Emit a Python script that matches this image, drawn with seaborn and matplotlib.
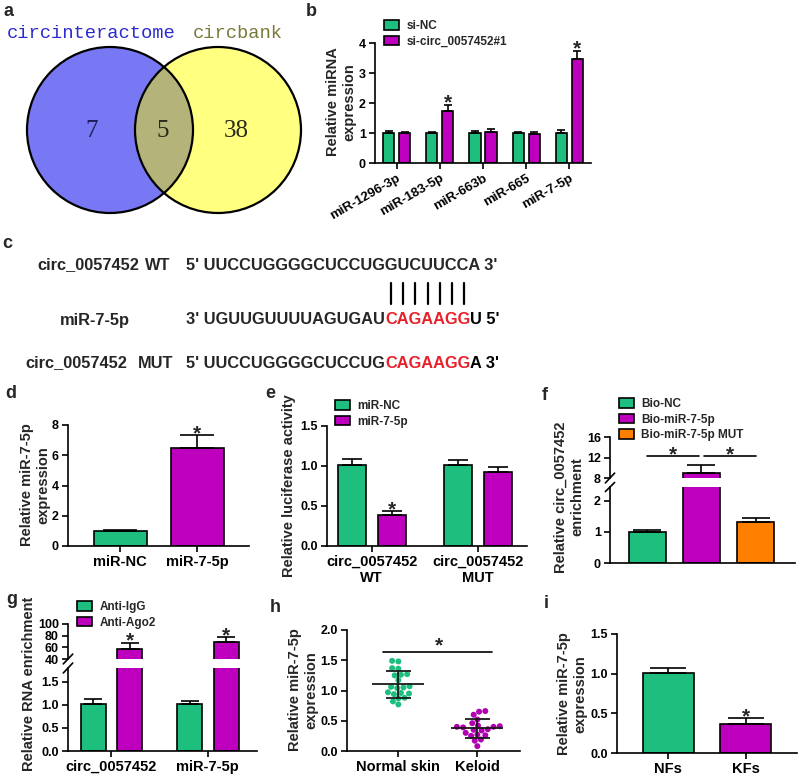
import numpy as np
import pandas as pd
import seaborn as sns
import matplotlib
matplotlib.use('Agg')
from matplotlib import pyplot as plt
from matplotlib.patches import Circle

# ---------------- data ----------------
venn_sets = ['circinteractome', 'circbank']
venn_counts = [7, 5, 38]

b_mirnas = ['miR-1296-3p', 'miR-183-5p', 'miR-663b', 'miR-665', 'miR-7-5p']
b_groups = ['si-NC', 'si-circ_0057452#1']
b_nc = [1.0, 1.0, 1.0, 1.0, 1.0]
b_nc_err = [0.08, 0.05, 0.07, 0.03, 0.10]
b_si = [1.0, 1.75, 1.05, 0.97, 3.47]
b_si_err = [0.05, 0.20, 0.09, 0.07, 0.28]

seq_wt = "5' UUCCUGGGGCUCCUGGUCUUCCA 3'"
seq_mir = ["3' UGUUGUUUUAGUGAU", "CAGAAGG", "U 5'"]
seq_mut = ["5' UUCCUGGGGCUCCUG", "CAGAAGG", "A 3'"]

d_groups = ['miR-NC', 'miR-7-5p']
d_vals = [1.0, 6.45]
d_err = [0.06, 0.90]

e_targets = ['circ_0057452\nWT', 'circ_0057452\nMUT']
e_groups = ['miR-NC', 'miR-7-5p']
e_nc = [1.01, 1.01]
e_nc_err = [0.08, 0.07]
e_mir = [0.39, 0.93]
e_mir_err = [0.05, 0.06]

f_groups = ['Bio-NC', 'Bio-miR-7-5p', 'Bio-miR-7-5p MUT']
f_vals = [1.0, 9.0, 1.32]
f_err = [0.06, 1.6, 0.13]

g_targets = ['circ_0057452', 'miR-7-5p']
g_groups = ['Anti-IgG', 'Anti-Ago2']
g_igg = [1.02, 1.01]
g_igg_err = [0.11, 0.08]
g_ago = [58.0, 70.0]
g_ago_err = [10.0, 7.0]

h_groups = ['Normal skin', 'Keloid']
h_normal = [1.49, 1.48, 1.37, 1.36, 1.27, 1.26, 1.25, 1.17, 1.07, 1.06,
            1.05, 1.04, 0.97, 0.96, 0.95, 0.94, 0.88, 0.87, 0.82, 0.77]
h_keloid = [0.66, 0.65, 0.60, 0.52, 0.46, 0.42, 0.41, 0.40, 0.40, 0.39,
            0.36, 0.35, 0.34, 0.30, 0.27, 0.26, 0.25, 0.19, 0.17, 0.08]

i_groups = ['NFs', 'KFs']
i_vals = [1.01, 0.37]
i_err = [0.06, 0.07]

GREEN = '#1DBE7E'
MAGENTA = '#BE00BE'
ORANGE = '#FF8000'
RED = '#E8202A'

# ---------------- style ----------------
W, H = 800, 775
sns.set_theme(style='ticks')
plt.rcParams['font.family'] = ['Liberation Sans', 'DejaVu Sans']
plt.rcParams.update({
    'font.weight': 'bold',
    'axes.labelweight': 'bold',
    'axes.linewidth': 1.2,
    'axes.edgecolor': 'black',
    'xtick.color': 'black',
    'ytick.color': 'black',
    'xtick.labelsize': 10.5,
    'ytick.labelsize': 9,
    'xtick.major.size': 4,
    'ytick.major.size': 4,
    'xtick.major.width': 1.2,
    'ytick.major.width': 1.2,
    'xtick.major.pad': 2.5,
    'ytick.major.pad': 2.5,
    'axes.labelsize': 10.5,
    'legend.fontsize': 8.5,
})

fig = plt.figure(figsize=(8, 7.75), dpi=100)
fig.patch.set_facecolor('white')

# invisible full-figure axes in pixel units for free text
ax_txt = fig.add_axes([0, 0, 1, 1])
ax_txt.set_xlim(0, W)
ax_txt.set_ylim(H, 0)
ax_txt.set_axis_off()


def add_ax(l, t, r, b):
    return fig.add_axes([l / W, 1 - b / H, (r - l) / W, (b - t) / H])


def ylab(ax, text, x_right, y_mid):
    ax.set_ylabel(text)
    ax.yaxis.set_label_coords(x_right / W, 1 - y_mid / H, transform=fig.transFigure)


def add_err(ax, bars, errs, cap):
    for bar, e in zip(bars, errs):
        x = bar.get_x() + bar.get_width() / 2
        ax.errorbar(x, bar.get_height(), yerr=[[0], [e]], fmt='none', ecolor='black',
                    elinewidth=1.2, capsize=cap, capthick=1.2, zorder=3)


def star(ax, x, y, dy=-3):
    ax.annotate('*', xy=(x, y), xytext=(0, dy), textcoords='offset points',
                ha='center', va='baseline', fontsize=15, fontweight='bold')


def legend_at(ax, x, y):
    sns.move_legend(ax, 'upper left', bbox_to_anchor=(x / W, 1 - y / H),
                    bbox_transform=fig.transFigure, frameon=False, title=None,
                    fontsize=8.5, handlelength=1.3, handleheight=0.9,
                    handletextpad=0.6, labelspacing=0.3, borderaxespad=0, borderpad=0)


def base(ax):
    sns.despine(ax=ax)
    ax.set_xlabel('')
    ax.set_ylabel('')


def flat(ax):
    return [p for c in ax.containers for p in c]


# ---------------- a: venn ----------------
ax_a = add_ax(0, 0, 310, 215)
ax_a.set_xlim(0, 310)
ax_a.set_ylim(215, 0)
ax_a.set_axis_off()
c_left = Circle((110, 130), 83, fc='#7878F5', ec='none')
c_right = Circle((218, 130), 83, fc='#FFFF80', ec='none')
ax_a.add_patch(c_left)
ax_a.add_patch(c_right)
c_mid = Circle((218, 130), 83, fc='#B4B47A', ec='none')
ax_a.add_patch(c_mid)
c_mid.set_clip_path(c_left)
for cx in (110, 218):
    ax_a.add_patch(Circle((cx, 130), 83, fc='none', ec='black', lw=1.6))
ax_a.text(7, 34, venn_sets[0], family='Liberation Mono', fontsize=13.5, fontweight='normal',
          color='#2B2BCF', va='center', ha='left')
ax_a.text(193, 34, venn_sets[1], family='Liberation Mono', fontsize=13.5, fontweight='normal',
          color='#7A7A38', va='center', ha='left')
for xx, n, col in zip((92, 163, 236), venn_counts, ('#1C1C55', '#2A2A1A', '#2A2A1A')):
    ax_a.text(xx, 131, str(n), family='Liberation Serif', fontsize=18, fontweight='normal',
              color=col, ha='center', va='center')

# ---------------- b ----------------
ax_b = add_ax(375, 43, 591, 163)
b_df = pd.DataFrame({'miRNA': b_mirnas * 2,
                     'group': [b_groups[0]] * len(b_mirnas) + [b_groups[1]] * len(b_mirnas),
                     'value': b_nc + b_si})
sns.barplot(data=b_df, x='miRNA', y='value', hue='group', palette=[GREEN, MAGENTA],
            saturation=1, width=0.74, gap=0.31, edgecolor='black', linewidth=1.2,
            errorbar=None, ax=ax_b)
add_err(ax_b, ax_b.containers[0], b_nc_err, 3)
add_err(ax_b, ax_b.containers[1], b_si_err, 3)
for k in (1, 4):
    bar = ax_b.containers[1][k]
    star(ax_b, bar.get_x() + bar.get_width() / 2, b_si[k] + b_si_err[k])
base(ax_b)
ax_b.set_ylim(0, 4)
ax_b.set_xlim(-0.5, 4.5)
ax_b.set_yticks([0, 1, 2, 3, 4])
plt.setp(ax_b.get_xticklabels(), rotation=30, ha='right', rotation_mode='anchor', fontsize=9.5)
ylab(ax_b, 'Relative miRNA\nexpression', 356, 102)
legend_at(ax_b, 384, 20)

# ---------------- c: sequences ----------------
ax_txt.text(7, 243, 'c', fontsize=13, fontweight='bold', ha='center', va='center')
SEQ_FS = 11.8
ax_txt.text(37, 265, 'circ_0057452', fontsize=SEQ_FS, va='center')
ax_txt.text(170, 265, 'WT', fontsize=SEQ_FS, va='center', ha='right')
ax_txt.text(186, 265, seq_wt, fontsize=SEQ_FS, va='center')

ax_txt.text(60, 320, 'miR-7-5p', fontsize=SEQ_FS, va='center')
ax_txt.text(25, 363, 'circ_0057452', fontsize=SEQ_FS, va='center')
ax_txt.text(173, 363, 'MUT', fontsize=SEQ_FS, va='center', ha='right')


def seq_line(parts, y):
    prev = ax_txt.text(186, y, parts[0], fontsize=SEQ_FS, va='center')
    out = [prev]
    for k, txt in enumerate(parts[1:], start=1):
        col = RED if k == 1 else 'black'
        prev = ax_txt.annotate(txt, xy=(1, 0), xycoords=prev, va='bottom', ha='left',
                               fontsize=SEQ_FS, color=col)
        out.append(prev)
    return out


mir_texts = seq_line(seq_mir, 320)
seq_line(seq_mut, 363)

# ---------------- d ----------------
ax_d = add_ax(68, 425, 249, 546)
sns.barplot(x=d_groups, y=d_vals, hue=d_groups, palette=[GREEN, MAGENTA], saturation=1,
            width=0.69, edgecolor='black', linewidth=1.2, legend=False, ax=ax_d)
add_err(ax_d, flat(ax_d), d_err, 12.5)
star(ax_d, 1, d_vals[1] + d_err[1])
base(ax_d)
ax_d.set_ylim(0, 8)
ax_d.set_xlim(-0.68, 1.67)
ax_d.set_yticks([0, 2, 4, 6, 8])
ylab(ax_d, 'Relative miR-7-5p\nexpression', 50, 485)
ax_txt.text(11, 394, 'd', fontsize=13, fontweight='bold', ha='center', va='center')

# ---------------- e ----------------
ax_e = add_ax(327, 426, 527, 546)
e_df = pd.DataFrame({'target': e_targets * 2,
                     'group': [e_groups[0]] * 2 + [e_groups[1]] * 2,
                     'value': e_nc + e_mir})
sns.barplot(data=e_df, x='target', y='value', hue='group', palette=[GREEN, MAGENTA],
            saturation=1, width=0.75, gap=0.3, edgecolor='black', linewidth=1.2,
            errorbar=None, ax=ax_e)
add_err(ax_e, ax_e.containers[0], e_nc_err, 7)
add_err(ax_e, ax_e.containers[1], e_mir_err, 7)
bar = ax_e.containers[1][0]
star(ax_e, bar.get_x() + bar.get_width() / 2, e_mir[0] + e_mir_err[0])
base(ax_e)
ax_e.set_ylim(0, 1.5)
ax_e.set_xlim(-0.42, 1.46)
ax_e.set_yticks([0, 0.5, 1.0, 1.5])
ylab(ax_e, 'Relative luciferase activity', 296, 486)
legend_at(ax_e, 335, 400)
ax_txt.text(270, 394, 'e', fontsize=13, fontweight='bold', ha='center', va='center')

# ---------------- f (broken axis) ----------------
ax_fu = add_ax(610, 437, 795, 478)
ax_fl = add_ax(610, 487, 795, 563)
for ax, show_leg in ((ax_fu, True), (ax_fl, False)):
    sns.barplot(x=f_groups, y=f_vals, hue=f_groups, palette=[GREEN, MAGENTA, ORANGE],
                saturation=1, width=0.69, edgecolor='black', linewidth=1.2,
                legend=show_leg, ax=ax)
    add_err(ax, flat(ax), f_err, 10)
    base(ax)
    ax.set_xlim(-0.69, 2.73)
    ax.set_xticks([])
ax_fu.set_ylim(8, 16)
ax_fu.set_yticks([8, 12, 16])
ax_fu.spines['bottom'].set_visible(False)
ax_fl.set_ylim(0, 2.45)
ax_fl.set_yticks([0, 1, 2])
ax_fu.plot([0.0, 0.95], [12.2, 12.2], color='black', lw=1.2)
ax_fu.plot([1.05, 2.0], [12.2, 12.2], color='black', lw=1.2)
star(ax_fu, 0.47, 12.2, dy=-2.5)
star(ax_fu, 1.52, 12.2, dy=-2.5)
ax_fu.plot([-0.025, 0.025], [-0.12, 0.12], transform=ax_fu.transAxes, color='black',
           lw=1.2, clip_on=False)
ax_fl.plot([-0.025, 0.025], [0.94, 1.06], transform=ax_fl.transAxes, color='black',
           lw=1.2, clip_on=False)
ylab(ax_fl, 'Relative circ_0057452\nenrichment', 584, 497)
legend_at(ax_fu, 619, 398)
ax_txt.text(545, 395, 'f', fontsize=13, fontweight='bold', ha='center', va='center')

# ---------------- g (broken axis) ----------------
ax_gu = add_ax(68, 624, 257, 659)
ax_gl = add_ax(68, 668, 257, 751)
g_df = pd.DataFrame({'target': g_targets * 2,
                     'group': [g_groups[0]] * 2 + [g_groups[1]] * 2,
                     'value': g_igg + g_ago})
for ax, show_leg in ((ax_gu, True), (ax_gl, False)):
    sns.barplot(data=g_df, x='target', y='value', hue='group', palette=[GREEN, MAGENTA],
                saturation=1, width=0.76, gap=0.32, edgecolor='black', linewidth=1.2,
                errorbar=None, legend=show_leg, ax=ax)
    add_err(ax, ax.containers[0], g_igg_err, 6.5)
    add_err(ax, ax.containers[1], g_ago_err, 6.5)
    base(ax)
    ax.set_xlim(-0.45, 1.51)
for k in range(2):
    bar = ax_gu.containers[1][k]
    star(ax_gu, bar.get_x() + bar.get_width() / 2, g_ago[k] + g_ago_err[k])
ax_gu.set_ylim(40, 100)
ax_gu.set_yticks([40, 60, 80, 100])
ax_gu.set_xticks([])
ax_gu.spines['bottom'].set_visible(False)
ax_gl.set_ylim(0, 1.8)
ax_gl.set_yticks([0, 0.5, 1.0, 1.5])
ax_gu.plot([-0.025, 0.025], [-0.14, 0.14], transform=ax_gu.transAxes, color='black',
           lw=1.2, clip_on=False)
ax_gl.plot([-0.025, 0.025], [0.94, 1.06], transform=ax_gl.transAxes, color='black',
           lw=1.2, clip_on=False)
ylab(ax_gl, 'Relative RNA enrichment', 36, 684)
legend_at(ax_gu, 77, 601)
ax_txt.text(12, 600, 'g', fontsize=13, fontweight='bold', ha='center', va='center')

# ---------------- h ----------------
ax_h = add_ax(347, 630, 520, 751)
h_df = pd.DataFrame({'group': [h_groups[0]] * len(h_normal) + [h_groups[1]] * len(h_keloid),
                     'value': h_normal + h_keloid})
sns.swarmplot(data=h_df, x='group', y='value', hue='group', palette=[GREEN, '#B000B0'],
              size=4.3, legend=False, ax=ax_h)
for k, vals in enumerate((h_normal, h_keloid)):
    m = np.mean(vals)
    s = np.std(vals, ddof=1)
    ax_h.hlines(m, k - 0.33, k + 0.33, color='#1A1A1A', lw=1.3, zorder=4)
    ax_h.errorbar(k, m, yerr=s, fmt='none', ecolor='#1A1A1A', elinewidth=1.3,
                  capsize=9, capthick=1.3, zorder=4)
ax_h.plot([-0.2, 1.18], [1.64, 1.64], color='black', lw=1.2)
star(ax_h, 0.52, 1.64, dy=0)
base(ax_h)
ax_h.set_ylim(0, 2)
ax_h.set_xlim(-0.65, 1.54)
ax_h.set_yticks([0, 0.5, 1.0, 1.5, 2.0])
ylab(ax_h, 'Relative miR-7-5p\nexpression', 318, 690)
ax_txt.text(275, 607, 'h', fontsize=13, fontweight='bold', ha='center', va='center')

# ---------------- i ----------------
ax_i = add_ax(617, 634, 797, 753)
sns.barplot(x=i_groups, y=i_vals, hue=i_groups, palette=[GREEN, MAGENTA], saturation=1,
            width=0.66, edgecolor='black', linewidth=1.2, legend=False, ax=ax_i)
add_err(ax_i, flat(ax_i), i_err, 13)
star(ax_i, 1, i_vals[1] + i_err[1])
base(ax_i)
ax_i.set_ylim(0, 1.5)
ax_i.set_xlim(-0.66, 1.66)
ax_i.set_yticks([0, 0.5, 1.0, 1.5])
ylab(ax_i, 'Relative miR-7-5p\nexpression', 587, 694)
ax_txt.text(546, 604, 'i', fontsize=13, fontweight='bold', ha='center', va='center')

# panel letters a, b
ax_txt.text(9, 12, 'a', fontsize=13, fontweight='bold', ha='center', va='center')
ax_txt.text(311, 12, 'b', fontsize=13, fontweight='bold', ha='center', va='center')

# pairing bars between WT and miR-7-5p seed
fig.canvas.draw()
bb = mir_texts[1].get_window_extent()
(x0, _), (x1, _) = ax_txt.transData.inverted().transform([[bb.x0, bb.y0], [bb.x1, bb.y1]])
step = (x1 - x0) / 7
for k in range(7):
    xk = x0 + (k + 0.5) * step
    ax_txt.plot([xk, xk], [283, 304], color='black', lw=1.6)

fig.savefig('out.png', dpi=100)
